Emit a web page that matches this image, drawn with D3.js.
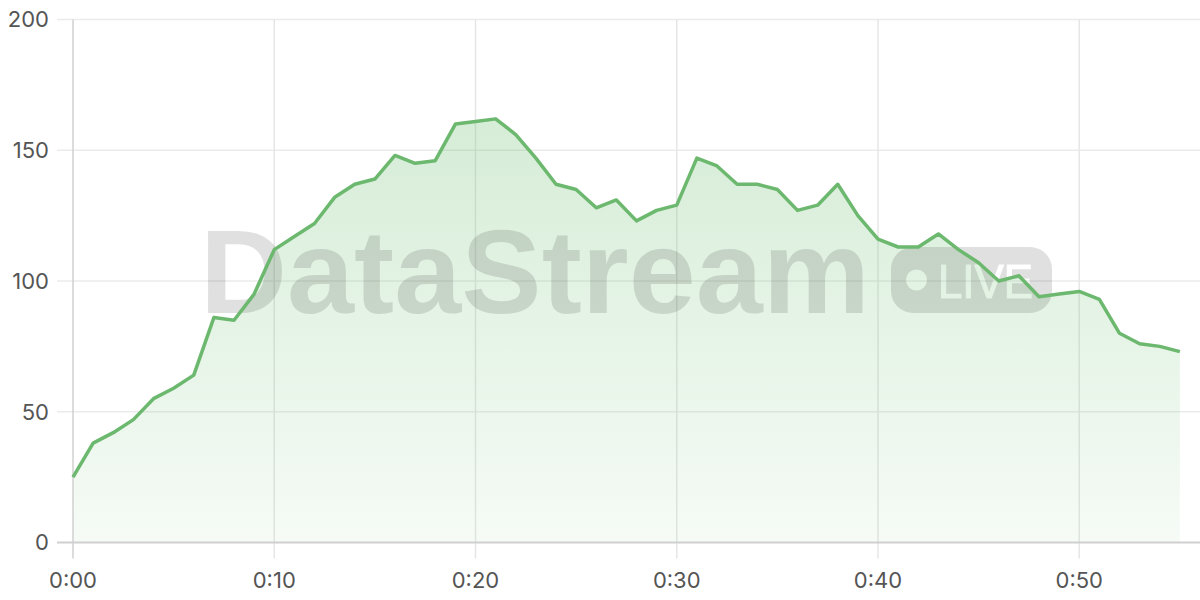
<!DOCTYPE html>
<html>
<head>
<meta charset="utf-8">
<script src="https://cdn.jsdelivr.net/npm/d3@7"></script>
<style>
  html, body { margin: 0; padding: 0; background: #fff; }
  svg { display: block; }
</style>
</head>
<body>
<svg id="chart" width="1200" height="600"></svg>
<script>
// ---- data ----
const minutes = d3.range(0, 56);
const values = [25, 38, 42, 47, 55, 59, 64, 86, 85, 95,
                112, 117, 122, 132, 137, 139, 148, 145, 146, 160,
                161, 162, 156, 147, 137, 135, 128, 131, 123, 127,
                129, 147, 144, 137, 137, 135, 127, 129, 137, 125,
                116, 113, 113, 118, 112, 107, 100, 102, 94, 95,
                96, 93, 80, 76, 75, 73];
const yTicks = [0, 50, 100, 150, 200];
const xTicks = [0, 10, 20, 30, 40, 50];
const watermarkText = "DataStream";
const badgeText = "LIVE";

(function () {
// ---- layout ----
const svg = d3.select("#chart");
const pl = 73, pr = 1200, pt = 19.5, pb = 542.5;
const x = d3.scaleLinear().domain([0, 56]).range([pl, pr]);
const y = d3.scaleLinear().domain([0, 200]).range([pb, pt]);
const fmt = m => "0:" + String(m).padStart(2, "0");
const green = "#6bb86e";

const defs = svg.append("defs");
const grad = defs.append("linearGradient")
  .attr("id", "areaGrad").attr("gradientUnits", "userSpaceOnUse")
  .attr("x1", 0).attr("x2", 0).attr("y1", y(d3.max(values))).attr("y2", y(0));
grad.append("stop").attr("offset", 0).attr("stop-color", "#66bb6a").attr("stop-opacity", 0.27);
grad.append("stop").attr("offset", 1).attr("stop-color", "#66bb6a").attr("stop-opacity", 0.06);

// grid
const grid = svg.append("g");
grid.selectAll(".hg").data(yTicks.filter(d => d !== 0)).join("line")
  .attr("x1", pl - 16).attr("x2", pr)
  .attr("y1", d => y(d)).attr("y2", d => y(d))
  .attr("stroke", "#ebebeb").attr("stroke-width", 1.5);
grid.selectAll(".vg").data(xTicks.filter(d => d !== 0)).join("line")
  .attr("x1", d => x(d)).attr("x2", d => x(d))
  .attr("y1", pt).attr("y2", pb + 16)
  .attr("stroke", "#e6e6e6").attr("stroke-width", 1.5);

// area
const data = minutes.map((m, i) => ({m, v: values[i]}));
svg.append("path").datum(data)
  .attr("fill", "url(#areaGrad)")
  .attr("d", d3.area().x(d => x(d.m)).y0(y(0)).y1(d => y(d.v)));

// axes lines
svg.append("line").attr("x1", pl).attr("x2", pl).attr("y1", pt).attr("y2", pb + 16)
  .attr("stroke", "#d0d0d0").attr("stroke-width", 1.5);
svg.append("line").attr("x1", pl - 16).attr("x2", pr).attr("y1", pb).attr("y2", pb)
  .attr("stroke", "#d0d0d0").attr("stroke-width", 2);

// watermark
const mask = defs.append("mask").attr("id", "badgeMask");
mask.append("rect").attr("x", 0).attr("y", 0).attr("width", 1200).attr("height", 600).attr("fill", "#fff");
mask.append("circle").attr("cx", 916.5).attr("cy", 280).attr("r", 10.5).attr("fill", "#000");
mask.append("text").attr("x", 938).attr("y", 298)
  .attr("font-family", "'Liberation Sans', Arial, sans-serif").attr("font-size", 48)
  .attr("stroke", "#000").attr("stroke-width", 1.2)
  .attr("textLength", 95).attr("lengthAdjust", "spacingAndGlyphs")
  .attr("fill", "#000").text(badgeText);

const wm = svg.append("g").attr("fill", "rgba(0,0,0,0.12)");
wm.append("text").attr("x", 200).attr("y", 313)
  .attr("font-family", "'Liberation Sans', Arial, sans-serif")
  .attr("font-weight", "bold").attr("font-size", 119)
  .attr("textLength", 670).attr("lengthAdjust", "spacingAndGlyphs")
  .text(watermarkText);
wm.append("rect").attr("x", 891).attr("y", 247).attr("width", 161).attr("height", 66)
  .attr("rx", 22).attr("mask", "url(#badgeMask)");

// line
svg.append("path").datum(data)
  .attr("fill", "none").attr("stroke", green).attr("stroke-width", 3.5)
  .attr("stroke-linejoin", "round")
  .attr("d", d3.line().x(d => x(d.m)).y(d => y(d.v)));

// labels
const font = "Inter, 'Open Sans', sans-serif";
svg.append("g").selectAll("text").data(yTicks).join("text")
  .attr("x", 49).attr("y", d => y(d)).attr("dy", "0.36em")
  .attr("text-anchor", "end").attr("font-family", font).attr("font-size", 22)
  .attr("fill", "#555").text(d => d);
svg.append("g").selectAll("text").data(xTicks).join("text")
  .attr("x", d => x(d)).attr("y", 588)
  .attr("text-anchor", "middle").attr("font-family", font).attr("font-size", 22)
  .attr("fill", "#555").text(fmt);
})();
</script>
</body>
</html>
